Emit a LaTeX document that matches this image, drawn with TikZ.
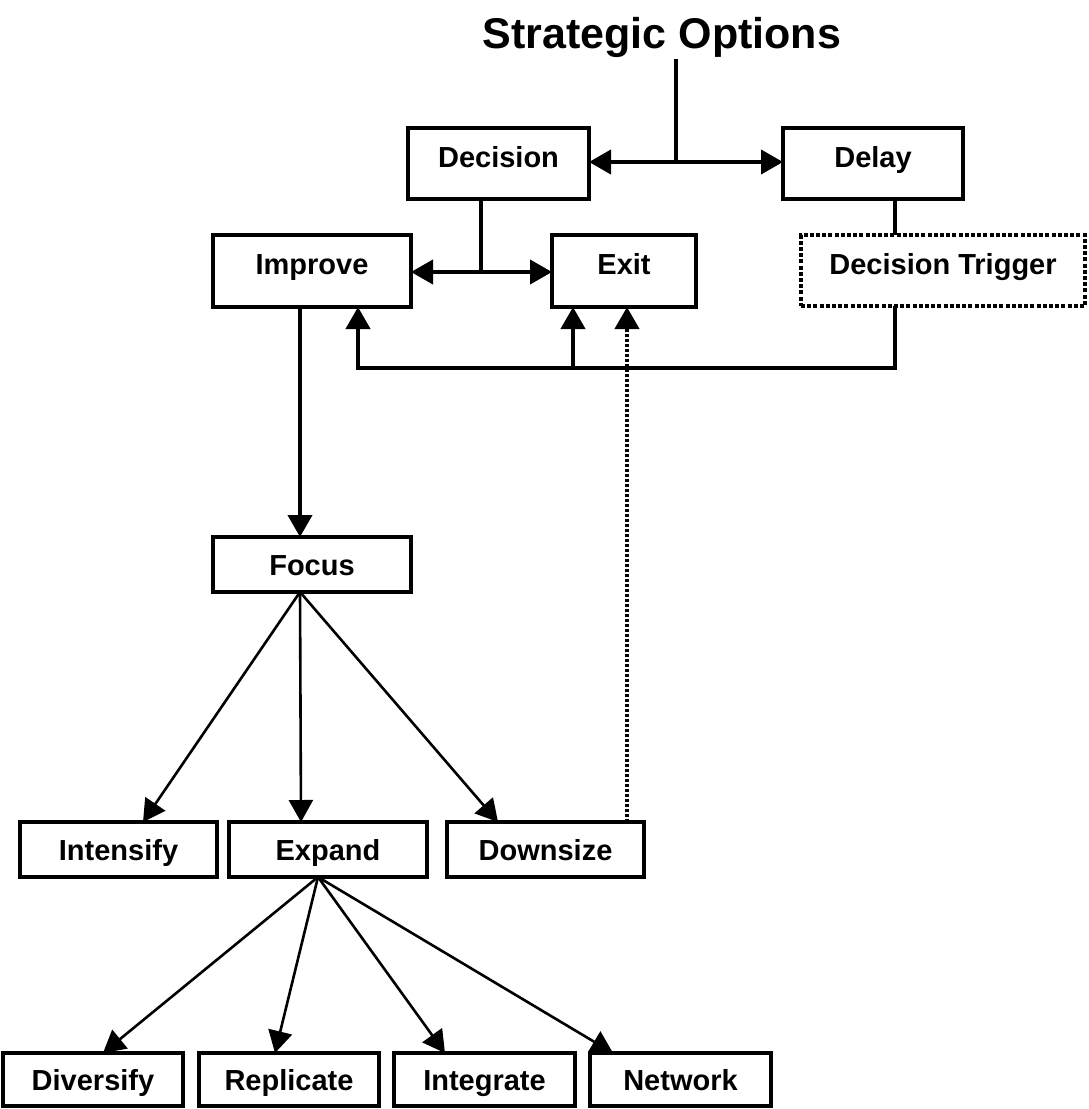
\documentclass[tikz,border=0pt]{standalone}
\usepackage{fontspec}
\setmainfont{Liberation Sans}
\usepackage{tikz}
\usetikzlibrary{arrows.meta,positioning}
\tikzstyle{optbox} = [draw=black, line width=3.5pt, rectangle, inner sep=0pt, outer sep=0pt,
    minimum height=55pt, text height=21pt, text depth=0pt, font=\fontsize{29}{34}\selectfont\bfseries]
\tikzstyle{tallbox} = [optbox, minimum height=71pt, text depth=14pt]
\tikzstyle{triggerbox} = [tallbox, dash pattern=on 4pt off 2.2pt]
\tikzstyle{bigtitle} = [font=\fontsize{43}{50}\selectfont\bfseries, inner sep=0pt]
\tikzstyle{arrow} = [line width=4pt, -{Triangle[length=22pt,width=24pt]}]
\tikzstyle{thinarrow} = [line width=2.6pt, -{Triangle[length=22pt,width=24pt]}]
\tikzstyle{dotarrow} = [arrow, dash pattern=on 3pt off 2pt]

\begin{document}
\begin{tikzpicture}[x=1pt, y=-1pt]
\useasboundingbox (0,0) rectangle (1089,1109);
% title and upper options
\node[bigtitle, anchor=base] (title) at (662,48) {Strategic Options};
\node[tallbox, minimum width=181pt] (dec) at (498.5,163.5) {Decision};
\node[tallbox, minimum width=180pt] (delay) at (873,163.5) {Delay};
\node[tallbox, minimum width=198pt, minimum height=72pt] (imp) at (312,271) {Improve};
\node[tallbox, minimum width=144pt, minimum height=72pt] (exit) at (624,271) {Exit};
\node[triggerbox, minimum width=284pt] (trig) at (943,270.5) {Decision Trigger};
% lower levels
\node[optbox, minimum width=198pt] (focus) at (312,564.5) {Focus};
\node[optbox, minimum width=197pt] (intens) at (118.5,849.5) {Intensify};
\node[optbox, minimum width=198pt] (expand) at (328,849.5) {Expand};
\node[optbox, minimum width=197pt] (downsize) at (545.5,849.5) {Downsize};
\node[optbox, minimum width=180pt, minimum height=53pt] (divers) at (93,1079.5) {Diversify};
\node[optbox, minimum width=180pt, minimum height=53pt] (repl) at (289,1079.5) {Replicate};
\node[optbox, minimum width=181pt, minimum height=53pt] (integ) at (484.5,1079.5) {Integrate};
\node[optbox, minimum width=181pt, minimum height=53pt] (netw) at (680.5,1079.5) {Network};

\coordinate (top) at (676,59);
\coordinate (split) at (676,162);
\coordinate (split2) at (481,272);
\coordinate (corner) at (895,368);
\coordinate (retimp) at (358,368);
\coordinate (retexit) at (573,368);
\coordinate (dx) at (627,600);
\coordinate (fx) at (300,450);

\draw[line width=4pt] (top) -- (split);
\draw[arrow] (split) -- (split -| dec.east);
\draw[arrow] (split) -- (split -| delay.west);
\draw[line width=4pt] (dec.south -| split2) -- (split2);
\draw[arrow] (split2) -- (split2 -| imp.east);
\draw[arrow] (split2) -- (split2 -| exit.west);
\draw[line width=4pt] (delay.south -| corner) -- (trig.north -| corner);
\draw[arrow] (trig.south -| corner) -- (corner) -- (retimp) -- (retimp |- imp.south);
\draw[arrow] (retexit) -- (retexit |- exit.south);
\draw[dotarrow] (downsize.north -| dx) -- (exit.south -| dx);
\draw[arrow] (imp.south -| fx) -- (focus.north -| fx);

\draw[thinarrow] ([xshift=-12pt]focus.south) -- ([xshift=24.5pt]intens.north);
\draw[thinarrow] ([xshift=-12pt]focus.south) -- ([xshift=-27pt]expand.north);
\draw[thinarrow] ([xshift=-12pt]focus.south) -- ([xshift=-47.5pt]downsize.north);

\draw[thinarrow] ([xshift=-10pt]expand.south) -- ([xshift=10pt]divers.north);
\draw[thinarrow] ([xshift=-10pt]expand.south) -- ([xshift=-14pt]repl.north);
\draw[thinarrow] ([xshift=-10pt]expand.south) -- ([xshift=-39.5pt]integ.north);
\draw[thinarrow] ([xshift=-10pt]expand.south) -- ([xshift=-67.5pt]netw.north);
\end{tikzpicture}
\end{document}
